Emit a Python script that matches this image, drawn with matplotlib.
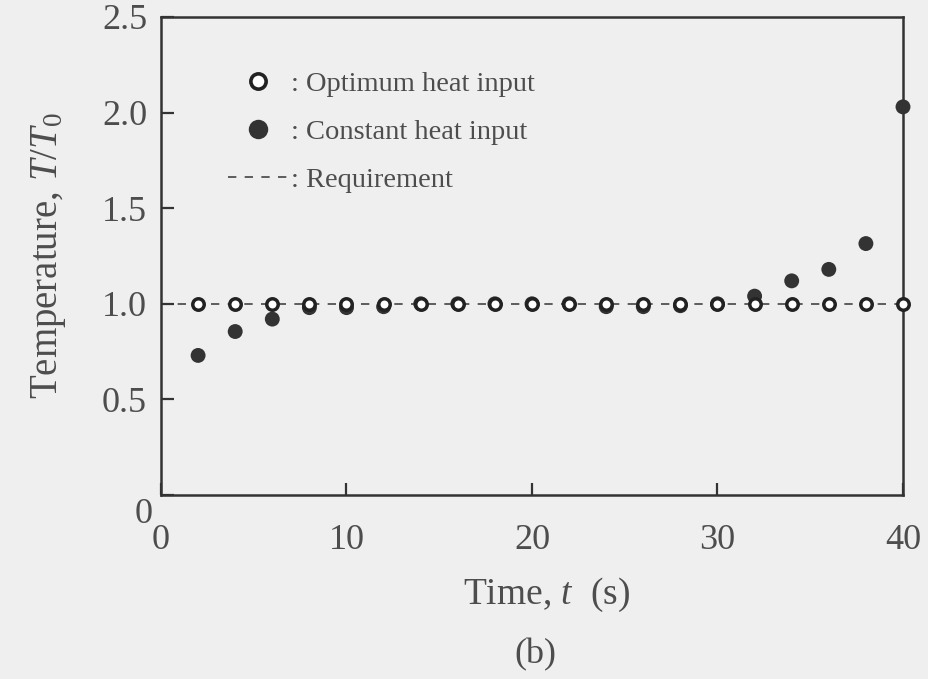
import matplotlib.pyplot as plt
from matplotlib.lines import Line2D
import matplotlib.transforms as mtransforms

plt.rcParams['font.family'] = ['Liberation Serif', 'DejaVu Serif']
plt.rcParams['mathtext.fontset'] = 'custom'
plt.rcParams['mathtext.rm'] = 'Liberation Serif'
plt.rcParams['mathtext.it'] = 'Liberation Serif:italic'

# time (s)
time_s = [2, 4, 6, 8, 10, 12, 14, 16, 18, 20, 22, 24, 26, 28, 30, 32, 34, 36, 38, 40]
# optimum heat input keeps T/T0 on the requirement
optimum = [1.0] * 20
# constant heat input
constant = [0.73, 0.855, 0.92, 0.98, 0.98, 0.985, 1.0, 1.0, 1.0, 1.0,
            1.0, 0.985, 0.985, 0.99, 1.0, 1.04, 1.12, 1.18, 1.315, 2.03]
requirement_t = [0, 40]
requirement_y = [1.0, 1.0]

BG = '#efefef'
INK = '#333333'
TXT = '#4d4d4d'
DASH = (0, (5, 5))

fig = plt.figure(figsize=(9.29, 6.79), dpi=100, facecolor=BG)
ax = fig.add_axes([161 / 929, (679 - 495) / 679, 742 / 929, 478 / 679])
ax.set_facecolor(BG)

ax.plot(requirement_t, requirement_y, ls=DASH, color='#444444', lw=1.2, zorder=1)
ax.scatter(time_s, constant, s=115, color='#333333', edgecolors='none', zorder=2,
           clip_on=False)
ax.scatter(time_s, optimum, s=68, facecolors='white', edgecolors='#222222',
           linewidths=2.5, zorder=3, clip_on=False)

ax.set_xlim(0, 40)
ax.set_ylim(0, 2.5)
ax.set_xticks([0, 10, 20, 30, 40])
ax.set_yticks([0, 0.5, 1.0, 1.5, 2.0, 2.5])
ax.set_yticklabels(['0', '0.5', '1.0', '1.5', '2.0', '2.5'])
ax.tick_params(direction='in', length=9, width=1.6, color=INK, labelsize=26,
               labelcolor=TXT)
ax.tick_params(axis='y', pad=10)
ax.tick_params(axis='x', pad=21)
for s in ax.spines.values():
    s.set_color(INK)
    s.set_linewidth(1.8)

# the y "0" sits lower, tucked next to the x "0"
ylab0 = ax.get_yticklabels()[0]
ylab0.set_transform(ylab0.get_transform() +
                    mtransforms.ScaledTranslation(4 / 72, -11 / 72, fig.dpi_scale_trans))

ax.set_ylabel(r'Temperature, $T/T_\mathit{0}$', fontsize=28, color=TXT)
ax.yaxis.set_label_coords(-0.151, 0.5)
ax.yaxis.label.set_va('center')
ax.set_xlabel('Time, $t$  (s)', fontsize=27, color=TXT)
ax.xaxis.set_label_coords(0.519, -0.168)
fig.text(0.576, 0.035, '(b)', fontsize=26, color=TXT, ha='center', va='center')

handles = [
    Line2D([], [], ls='none', marker='o', ms=11, mfc='white', mec='#222222', mew=2.6),
    Line2D([], [], ls='none', marker='o', ms=14, mfc='#333333', mec='none'),
    Line2D([], [], ls=DASH, color='#444444', lw=1.2),
]
labels = [': Optimum heat input', ': Constant heat input', ': Requirement']
ax.legend(handles, labels, loc='upper left', bbox_to_anchor=(0.075, 0.91),
          frameon=False, fontsize=20.5, labelcolor=TXT, handlelength=2.1,
          handletextpad=0.1, labelspacing=0.77, borderaxespad=0)

fig.savefig('out.png', dpi=100, facecolor=BG)
